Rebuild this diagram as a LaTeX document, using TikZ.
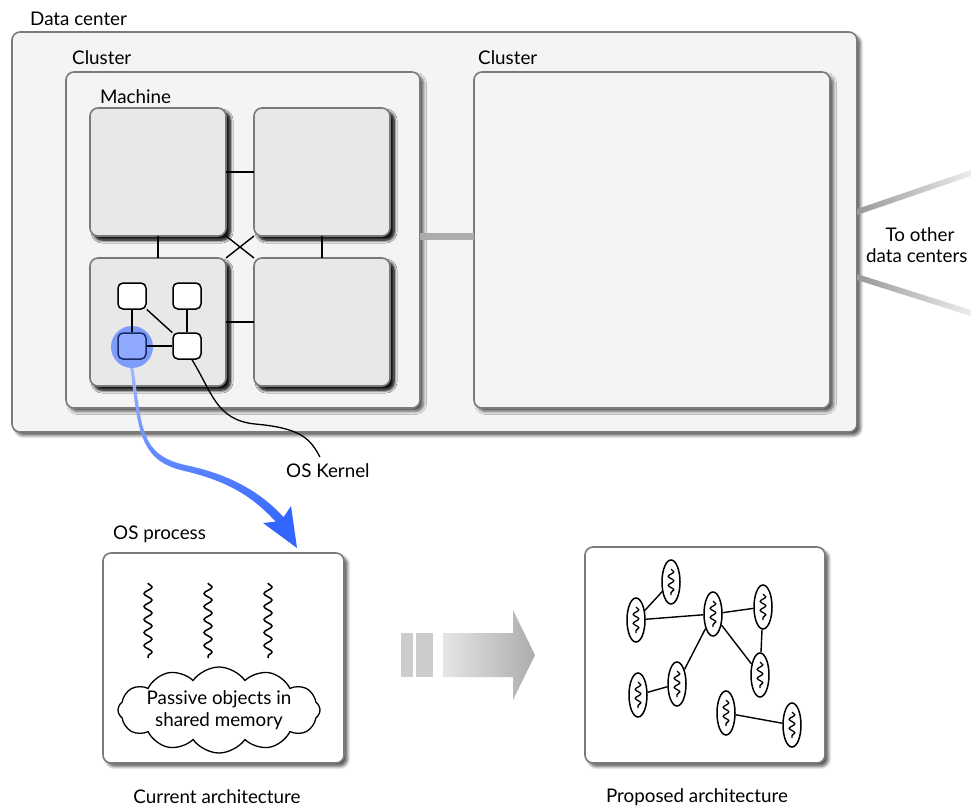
\documentclass[tikz,border=0pt]{standalone}
\usepackage{fontspec}
\setmainfont{Lato}
\usetikzlibrary{shapes.symbols,shapes.geometric,decorations.pathmorphing,shadows.blur,calc}

\definecolor{boxline}{HTML}{7A7A7A}
\definecolor{dcfill}{HTML}{F4F4F4}
\definecolor{machfill}{HTML}{E8E8E8}
\definecolor{procblue}{HTML}{8FA9FF}
\definecolor{haloblue}{HTML}{7394FF}
\definecolor{arrowblue}{HTML}{3366FF}
\definecolor{procedge}{HTML}{1A2A66}

\begin{document}
\begin{tikzpicture}[x=1pt,y=-1pt,
  font=\fontsize{18.8}{22}\selectfont,
  box/.style={draw=boxline, line width=1.6pt, rounded corners=8pt,
    inner sep=0pt, outer sep=0pt, anchor=north west,
    blur shadow={shadow xshift=3.5pt, shadow yshift=-3.5pt,
      shadow blur steps=6, shadow blur radius=3pt, shadow opacity=65}},
  machbox/.style={box, fill=machfill, minimum width=136pt, minimum height=128pt,
    blur shadow={shadow xshift=4pt, shadow yshift=-4pt,
      shadow blur steps=6, shadow blur radius=3pt, shadow opacity=75}},
  lbl/.style={anchor=base west, inner sep=0pt},
  clbl/.style={anchor=base, inner sep=0pt},
  proc/.style={draw=black, line width=1.5pt, fill=white, rounded corners=5pt,
    minimum width=28pt, minimum height=26pt, inner sep=0pt},
  wire/.style={line width=1.4pt},
  thread/.style={line width=1.5pt, decorate,
    decoration={snake, segment length=13pt, amplitude=4pt}},
  minithread/.style={line width=1.3pt, decorate,
    decoration={snake, segment length=9pt, amplitude=2.8pt}},
  actor/.style={ellipse, draw=black, line width=1.5pt, fill=white,
    minimum width=18pt, minimum height=44pt, inner sep=0pt},
]
\useasboundingbox (0,0) rectangle (971,807);

% ---------------- data center ----------------
\node[box, fill=dcfill, minimum width=845pt, minimum height=400pt] (dc) at (12,32) {};
\node[lbl] at (30,25) {Data center};

% links to other data centers
\shade[left color=gray!80, right color=gray!15]
  ($(dc.east)+(0,-23)$) -- (971,170) -- (971,176) -- ($(dc.east)+(0,-17)$) -- cycle;
\shade[left color=gray!80, right color=gray!15]
  ($(dc.east)+(0,42)$) -- (971,310) -- (971,316) -- ($(dc.east)+(0,48)$) -- cycle;
\node[clbl] at (920,241) {To other};
\node[lbl] at (866,262) {data centers};

% ---------------- clusters ----------------
\node[box, fill=dcfill, minimum width=354pt, minimum height=336pt] (cl1) at (66,72) {};
\node[box, fill=dcfill, minimum width=356pt, minimum height=336pt] (cl2) at (474,72) {};
\node[lbl] at (72,64) {Cluster};
\node[lbl] at (478,64) {Cluster};
\draw[line width=7pt, color=gray!65] ([yshift=4pt]cl1.east) -- ([yshift=4pt]cl2.west);

% ---------------- machines ----------------
\node[lbl] at (100,103) {Machine};
\node[machbox] (mtl) at (90,108) {};
\node[machbox] (mtr) at (254,108) {};
\node[machbox] (mbl) at (90,258) {};
\node[machbox] (mbr) at (254,258) {};
\draw[wire] (mtl.east) -- (mtr.west);
\draw[wire] (mbl.east) -- (mbr.west);
\draw[wire] (mtl.south) -- (mbl.north);
\draw[wire] (mtr.south) -- (mbr.north);
\draw[wire] (mtl.south east) -- (mbr.north west);
\draw[wire] (mtr.south west) -- (mbl.north east);

% ---------------- processes inside one machine ----------------
\node[circle, fill=haloblue, fill opacity=0.9, minimum size=42pt, inner sep=0pt] (halo) at (132,347) {};
\node[proc] (p1) at (132,296) {};
\node[proc] (p2) at (187,296) {};
\node[proc] (p3) at (187,346) {};
\node[proc, fill=procblue, draw=procedge] (p4) at (132,346) {};
\draw[wire] (p1) -- (p4);
\draw[wire] (p1) -- (p3);
\draw[wire] (p2) -- (p3);
\draw[wire] (p4) -- (p3);

% kernel callout
\node[lbl] (kern) at (286,477) {OS Kernel};
\draw[line width=1.3pt] (p3.-70) .. controls (212,392) and (216,420) .. (255,424)
  .. controls (300,428) and (310,438) .. ([shift={(-8pt,6pt)}]kern.north);

% tapered blue arrow from the highlighted process
\shade[top color=procblue!85!white, bottom color=arrowblue]
  (130.5,368) .. controls (138,430.3) and (139.3,461) .. (184.3,470.9)
  .. controls (229.2,481.4) and (254.9,497.8) .. (278.6,525)
  -- (285.4,519) .. controls (261.1,492.2) and (230.8,474.6) .. (185.65,465.1)
  .. controls (140.7,455) and (142,429.7) .. (133.5,368) -- cycle;
\fill[arrowblue] (263,523) -- (297,548) -- (291,506) -- (281,521) -- cycle;

% ---------------- OS process ----------------
\node[lbl] at (113,539) {OS process};
\node[box, fill=white, minimum width=241pt, minimum height=210pt] (osp) at (103,553) {};
\draw[thread] (148,583) -- (148,658);
\draw[thread] (208,583) -- (208,658);
\draw[thread] (268,583) -- (268,658);
\node[cloud, draw=black, line width=1.3pt, fill=white, cloud puffs=12,
  cloud puff arc=110, minimum width=202pt, minimum height=86pt, inner sep=0pt] (mem) at (219,710) {};
\node[align=center, inner sep=0pt] (memtxt) at (mem.center) {Passive objects in\\shared memory};
\node[clbl] at (217,803) {Current architecture};

% ---------------- transition arrow ----------------
\fill[gray!40] (401,633) rectangle (413,677);
\fill[gray!40] (416,633) rectangle (433,677);
\shade[left color=gray!20, right color=gray!65]
  (443,633) -- (513,633) -- (513,610) -- (535,655) -- (513,700) -- (513,677) -- (443,677) -- cycle;

% ---------------- actors ----------------
\node[box, fill=white, minimum width=240pt, minimum height=216pt] (prop) at (585,547) {};
\foreach \n/\x/\y in {a1/671/582, a2/636/620, a3/713/614, a4/763/607, a5/760/675,
                      a6/677/684, a7/638/695, a8/726/713, a9/792/725} {
  \node[actor] (\n) at (\x,\y) {};
  \draw[minithread] (\x,\y-13) -- (\x,\y+13);
}
\draw[wire] (a1) -- (a2);
\draw[wire] (a2) -- (a3);
\draw[wire] (a3) -- (a4);
\draw[wire] (a4) -- (a5);
\draw[wire] (a3) -- (a5);
\draw[wire] (a3) -- (a6);
\draw[wire] (a6) -- (a7);
\draw[wire] (a8) -- (a9);
\node[clbl] at (697,802) {Proposed architecture};
\end{tikzpicture}
\end{document}
